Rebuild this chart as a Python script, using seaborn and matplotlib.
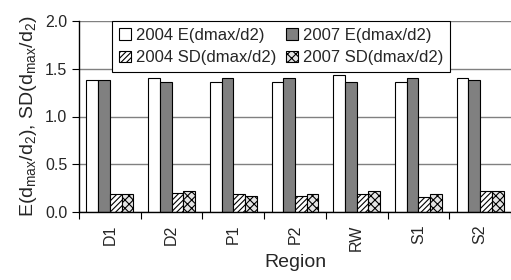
import pandas as pd
import matplotlib
matplotlib.use("Agg")
import matplotlib.pyplot as plt
import seaborn as sns

regions = ["D1", "D2", "P1", "P2", "RW", "S1", "S2"]
series = ["2004 E(dmax/d2)", "2007 E(dmax/d2)", "2004 SD(dmax/d2)", "2007 SD(dmax/d2)"]
e_2004 = [1.38, 1.40, 1.36, 1.36, 1.43, 1.36, 1.40]
e_2007 = [1.38, 1.36, 1.40, 1.40, 1.36, 1.40, 1.38]
sd_2004 = [0.19, 0.20, 0.19, 0.17, 0.19, 0.16, 0.22]
sd_2007 = [0.19, 0.22, 0.17, 0.19, 0.22, 0.19, 0.22]

rows = []
for name, vals in zip(series, [e_2004, e_2007, sd_2004, sd_2007]):
    for r, v in zip(regions, vals):
        rows.append({"Region": r, "series": name, "value": v})
df = pd.DataFrame(rows)

sns.set_style("white")
plt.rcParams["font.family"] = ["Liberation Sans", "DejaVu Sans"]
plt.rcParams["hatch.linewidth"] = 0.8

fig = plt.figure(figsize=(5.11, 2.80), dpi=100)
ax = fig.add_axes([79 / 511, 68 / 280, 432 / 511, 191 / 280])

face = ["white", "#808080", "white", "#e4e4e4"]
hatches = [None, None, "//////", "xxxx"]
sns.barplot(data=df, x="Region", y="value", hue="series", hue_order=series,
            palette=face, width=0.76, edgecolor="black", linewidth=0.8,
            saturation=1, ax=ax)
for cont, h in zip(ax.containers, hatches):
    for bar in cont:
        if h:
            bar.set_hatch(h)

ax.set_ylim(0, 2.0)
ax.set_xlim(-0.5, len(regions) - 0.5)
ax.set_yticks([0, 0.5, 1.0, 1.5, 2.0])
ax.set_yticklabels(["0.0", "0.5", "1.0", "1.5", "2.0"])
ax.yaxis.grid(True, color="#808080", linewidth=1.0)
ax.set_axisbelow(True)
for s in ["top", "right"]:
    ax.spines[s].set_visible(False)
for s in ["left", "bottom"]:
    ax.spines[s].set_color("black")
    ax.spines[s].set_linewidth(1.0)

ax.set_xticks(range(len(regions)))
ax.set_xticklabels(regions, rotation=90)
ax.set_xticks([i - 0.5 for i in range(len(regions) + 1)], minor=True)
ax.tick_params(axis="x", which="major", length=0, labelsize=11.5, pad=9)
ax.tick_params(axis="x", which="minor", length=5, width=0.8, color="black", direction="out", bottom=True)
ax.tick_params(axis="y", length=5, width=0.8, color="black", direction="out", left=True, labelsize=11.5)

ax.set_xlabel("Region", fontsize=14, labelpad=2)
ax.set_ylabel(r"E(d$_{\mathregular{max}}$/d$_{\mathregular{2}}$), SD(d$_{\mathregular{max}}$/d$_{\mathregular{2}}$)",
              fontsize=14, labelpad=4)

# legend filled row by row, hatches copied to the handles
handles, labels = ax.get_legend_handles_labels()
for hd, h in zip(handles, hatches):
    if h:
        hd.set_hatch(h)
order = [0, 2, 1, 3]
leg = ax.legend([handles[i] for i in order], [labels[i] for i in order],
                loc="upper left", bbox_to_anchor=(0.077, 1.0), ncol=2, fontsize=12,
                frameon=True, fancybox=False, edgecolor="black", framealpha=1,
                handlelength=0.7, handleheight=0.7, handletextpad=0.3,
                columnspacing=0.6, borderpad=0.4, labelspacing=0.45, borderaxespad=0)
leg.get_frame().set_linewidth(0.8)

fig.savefig("out.png", dpi=100)
